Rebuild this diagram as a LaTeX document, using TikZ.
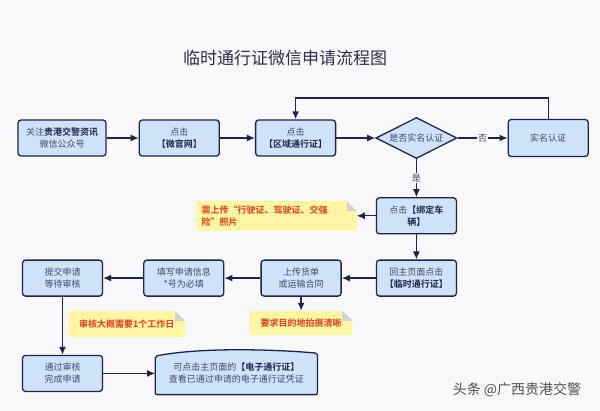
\documentclass[tikz,border=0pt]{standalone}
\usepackage{xcolor}
\usepackage{fontspec}
\setmainfont{Noto Sans CJK SC}[BoldFont={Noto Sans CJK SC Bold}]
\usepackage{tikz}
\usetikzlibrary{shapes.geometric, arrows.meta, positioning, backgrounds}
\definecolor{navy}{RGB}{30, 36, 78}
\definecolor{boxfill}{RGB}{206, 226, 248}
\definecolor{boxtext}{RGB}{62, 74, 108}
\definecolor{notefill}{RGB}{255, 245, 165}
\definecolor{notetext}{RGB}{226, 62, 24}
\definecolor{paper}{RGB}{248, 248, 250}

\begin{document}
\begin{tikzpicture}[
  x=1pt, y=1pt,
  box/.style={draw=navy, line width=1.3pt, rounded corners=3pt, fill=boxfill,
    minimum width=80pt, minimum height=36pt, inner sep=2pt, align=center,
    text=boxtext, font=\fontsize{9}{12}\selectfont},
  check/.style={diamond, draw=navy, line width=1.3pt, fill=boxfill, aspect=2,
    inner sep=0pt, minimum width=81pt, minimum height=41pt,
    text=boxtext, font=\fontsize{9}{12}\selectfont},
  note/.style={minimum height=24pt, inner sep=3pt, align=left,
    text=notetext, font=\bfseries\fontsize{9}{12}\selectfont},
  elabel/.style={fill=paper, inner sep=1pt, text=boxtext,
    font=\fontsize{9}{11}\selectfont},
  ar/.style={-{Latex[length=8pt, width=7pt]}, line width=1.3pt, draw=navy}
]
\begin{scope}[on background layer]
  \path[fill=paper] (0,0) rectangle (600,-410);
\end{scope}
\useasboundingbox (0,0) rectangle (600,-410);

\node[text={rgb,255:red,45;green,45;blue,80}, font=\fontsize{17}{20}\selectfont] (title) at (285,-58) {临时通行证微信申请流程图};

% row 1
\node[box, minimum width=88pt] (follow) at (62,-138) {关注\textcolor{navy}{\textbf{贵港交警资讯}}\\微信公众号};
\node[box, right=32pt of follow] (site) {点击\\\textcolor{navy}{\textbf{【微官网】}}};
\node[box, right=35pt of site] (area) {点击\\\textcolor{navy}{\textbf{【区域通行证】}}};
\node[check, right=39pt of area] (real) {是否实名认证};
\node[box, right=50pt of real, minimum height=37pt] (verify) {实名认证};

% right column
\node[box, below=38pt of real] (bind) {点击\textcolor{navy}{\textbf{【绑定车}}\\\textcolor{navy}{\textbf{辆】}}};
\node[box, below=25pt of bind] (back) {回主页面点击\\\textcolor{navy}{\textbf{【临时通行证】}}};

% row 3
\node[box, left=34pt of back] (upload) {上传货单\\或运输合同};
\node[box, left=36pt of upload] (fill) {填写申请信息\\*号为必填};
\node[box, left=40pt of fill] (submit) {提交申请\\等待审核};

% row 4
\node[box, below=58pt of submit] (done) {通过审核\\完成申请};
\node[minimum width=162pt, minimum height=42pt, inner sep=2pt, align=center,
  text=boxtext, font=\fontsize{9}{12}\selectfont, right=52pt of done] (epass)
  {可点击主页面的\textcolor{navy}{\textbf{【电子通行证】}}\\查看已通过申请的电子通行证凭证};

% notes
\node[note, left=19pt of bind, minimum width=160pt, minimum height=29pt, text width=150pt] (photo)
  {需上传“行驶证、驾驶证、交强\\险”照片};
\node[note, below=14pt of upload, minimum width=102pt] (clear) {要求目的地拍摄清晰};
\node[note, below=14pt of fill, xshift=-57pt, minimum width=116pt, minimum height=26pt] (day)
  {审核大概需要1个工作日};

\begin{scope}[on background layer]
  \foreach \n in {photo, clear, day} {
    \fill[notefill] (\n.south west) -- (\n.north west) -- ([xshift=-10pt]\n.north east)
      -- ([yshift=-10pt]\n.north east) -- (\n.south east) -- cycle;
    \fill[gray!35] ([xshift=-10pt]\n.north east) -- ([yshift=-10pt]\n.north east)
      -- ([xshift=-10pt, yshift=-10pt]\n.north east) -- cycle;
  }
  \draw[line width=1.3pt, draw=navy, fill=boxfill, rounded corners=2pt]
    (epass.south west) -- ([yshift=-4pt]epass.north west)
    .. controls ([xshift=45pt, yshift=5pt]epass.north west) and ([xshift=-45pt, yshift=3pt]epass.north east)
    .. ([yshift=-1pt]epass.north east) -- (epass.south east) -- cycle;
\end{scope}

\node[text={rgb,255:red,80;green,80;blue,80}, font=\fontsize{14}{16}\selectfont] (mark) at (517,-390) {头条 @广西贵港交警};

% connectors
\draw[ar] (follow) -- (site);
\draw[ar] (site) -- (area);
\draw[ar] (area) -- (real);
\draw[ar] (real) -- node[elabel]{否} (verify);
\draw[ar] (verify.north) -- ++(0,21) -| (area.north);
\draw[ar] (real) -- node[elabel]{是} (bind);
\draw[ar] (bind) -- (photo);
\draw[ar] (bind) -- (back);
\draw[ar] (back) -- (upload);
\draw[ar] (upload) -- (clear);
\draw[ar] (upload) -- (fill);
\draw[ar] (fill) -- (submit);
\draw[ar] (submit) -- (done);
\draw[ar] (done) -- (epass);
\end{tikzpicture}
\end{document}
